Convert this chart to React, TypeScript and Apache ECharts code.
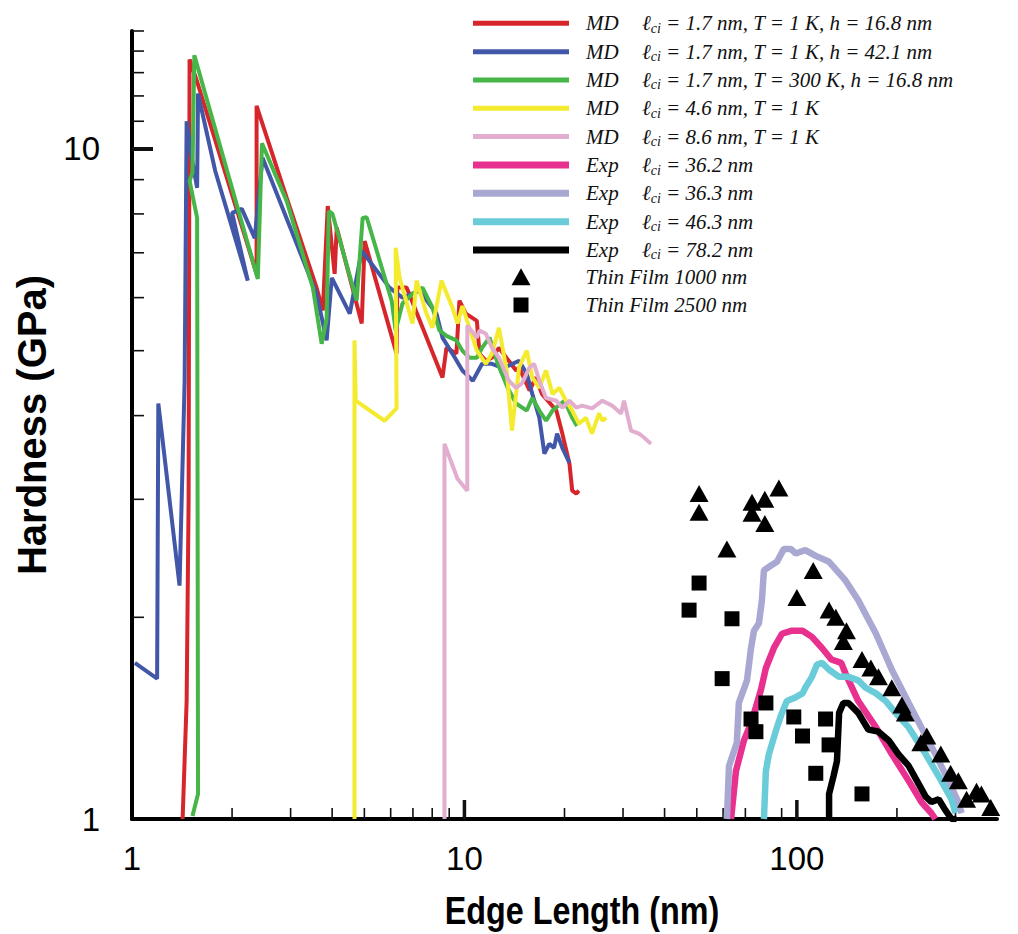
import React, { useEffect, useRef } from "react";
import * as echarts from "echarts";

// Axis tick positions (log axes)
const X_MAJOR_TICKS = [10, 100];
const X_MINOR_TICKS = [2, 3, 4, 5, 6, 7, 8, 9, 20, 30, 40, 50, 60, 70, 80, 90, 200, 300];
const Y_MAJOR_TICKS = [10];
const Y_MINOR_TICKS = [2, 3, 4, 5, 6, 7, 8, 9, 11, 12, 13, 14, 15];

const X_TITLE = "Edge Length (nm)";
const Y_TITLE = "Hardness (GPa)";

// Legend descriptions
const MD_LABELS = [
  "1.7 nm, T = 1 K, h = 16.8 nm",
  "1.7 nm, T = 1 K, h = 42.1 nm",
  "1.7 nm, T = 300 K, h = 16.8 nm",
  "4.6 nm, T = 1 K",
  "8.6 nm, T = 1 K",
];
const EXP_LABELS = ["36.2 nm", "36.3 nm", "46.3 nm", "78.2 nm"];
const FILM_LABELS = ["Thin Film 1000 nm", "Thin Film 2500 nm"];

const MD_COLORS = ["#d7262b", "#4257a8", "#46b648", "#f4eb2e", "#e2aed0"];
const EXP_COLORS = ["#e8318f", "#a9a8d2", "#6acbd9", "#000000"];

// [edge length (nm), hardness (GPa)]
const md17T1h168: [number, number][] = [
  [1.42, 1.0], [1.46, 1.5], [1.48, 2.99], [1.49, 13.6], [1.57, 12.6], [2.37, 6.51], [2.37, 11.6],
  [2.92, 8.45], [3.59, 6.21], [3.75, 5.74], [3.88, 8.22], [4.07, 6.51], [4.13, 7.63], [4.91, 5.49],
  [5.01, 7.29], [6.25, 4.95], [6.28, 6.21], [6.7, 6.21], [8.59, 4.56], [8.83, 5.05], [9.46, 4.95],
  [9.66, 5.94], [10.1, 5.68], [10.9, 5.54], [11.1, 4.95], [11.6, 4.83], [12.1, 4.88], [12.7, 5.05],
  [14.3, 4.67], [14.6, 4.72], [15.7, 4.36], [16.4, 4.56], [17.1, 4.31], [18.9, 4.07], [19.7, 3.76],
  [20.7, 3.39], [21.1, 3.09], [21.7, 3.06], [22.1, 3.09],
];
const md17T1h421: [number, number][] = [
  [1.02, 1.71], [1.19, 1.62], [1.2, 4.17], [1.39, 2.23], [1.44, 4.51], [1.46, 11.0], [1.5, 9.93],
  [1.57, 8.75], [1.58, 12.1], [1.78, 9.27], [2.23, 6.36], [2.0, 8.03], [2.14, 8.14], [2.34, 7.36],
  [2.47, 9.7], [3.59, 6.08], [3.85, 5.18], [3.99, 6.42], [4.52, 5.68], [4.91, 7.05], [5.95, 6.21],
  [6.51, 6.0], [7.32, 6.14], [8.24, 5.68], [8.59, 5.23], [9.2, 4.95], [9.86, 4.67], [10.6, 4.51],
  [11.3, 4.78], [12.1, 4.78], [12.9, 4.72], [13.6, 4.75], [14.6, 4.83], [15.4, 4.62], [16.0, 4.31],
  [16.8, 3.97], [17.4, 3.51], [18.0, 3.63], [18.6, 3.58], [19.0, 3.76], [19.7, 3.58], [20.7, 3.4],
];
const md17T300h168: [number, number][] = [
  [1.52, 1.01], [1.58, 1.09], [1.57, 7.89], [1.49, 8.96], [1.52, 9.21], [1.54, 13.8], [2.39, 6.4],
  [2.46, 10.2], [2.92, 8.36], [3.5, 6.21], [3.72, 5.12], [3.85, 5.58], [3.91, 8.08], [4.01, 8.0],
  [4.74, 5.94], [4.94, 7.89], [5.08, 7.91], [6.04, 5.94], [6.21, 5.36], [6.51, 5.88], [6.98, 6.08],
  [7.48, 6.21], [8.01, 5.8], [8.41, 5.36], [8.83, 5.26], [9.46, 5.18], [9.86, 5.0], [10.35, 4.88],
  [10.9, 4.88], [11.3, 5.05], [11.9, 5.23], [12.6, 4.78], [13.5, 4.4], [14.3, 4.17], [15.4, 4.07],
  [16.0, 4.25], [16.8, 4.07], [17.6, 3.93], [18.4, 4.07], [20.0, 4.21], [21.1, 3.97], [21.8, 3.86],
];
const md46T1: [number, number][] = [
  [4.67, 1.0], [4.67, 5.18], [4.71, 4.21], [5.75, 3.93], [6.25, 4.1], [6.21, 7.12], [6.38, 6.43],
  [6.98, 5.49], [7.18, 6.36], [7.69, 5.68], [8.01, 5.41], [8.53, 6.36], [9.2, 5.8], [9.53, 5.49],
  [9.86, 5.83], [10.35, 5.41], [10.9, 5.0], [11.6, 4.78], [12.1, 4.95], [12.7, 5.41], [13.4, 4.67],
  [13.9, 3.8], [14.6, 4.72], [15.4, 5.0], [16.0, 4.56], [16.8, 4.4], [17.6, 4.67], [18.4, 4.31],
  [19.3, 4.4], [20.2, 4.21], [21.1, 4.07], [22.1, 3.89], [23.2, 3.97], [24.2, 3.76], [25.4, 4.03],
  [26.0, 3.93], [26.7, 3.97],
];
const md86T1: [number, number][] = [
  [8.71, 1.0], [8.71, 3.63], [9.53, 3.22], [10.2, 3.09], [10.2, 5.45], [10.9, 5.23], [11.1, 5.36],
  [11.6, 5.3], [12.1, 5.05], [12.7, 4.88], [13.6, 4.51], [14.3, 4.4], [14.9, 4.47], [15.7, 4.72],
  [16.2, 4.78], [16.8, 4.51], [17.6, 4.25], [18.9, 4.21], [19.7, 4.11], [20.7, 4.21], [21.7, 4.11],
  [22.6, 4.14], [24.2, 4.1], [26.0, 4.21], [27.8, 4.14], [29.6, 4.03], [30.2, 4.21], [31.7, 3.8],
  [33.5, 3.76], [34.7, 3.71], [36.4, 3.63],
];
const exp362: [number, number][] = [
  [63.4, 1.0], [65.6, 1.18], [69.3, 1.31], [72.8, 1.39], [75.3, 1.47], [78.0, 1.56], [80.7, 1.68],
  [85.3, 1.8], [90.2, 1.89], [96.6, 1.91], [104, 1.91], [111, 1.87], [119, 1.8], [127, 1.73],
  [136, 1.71], [140, 1.65], [153, 1.5], [173, 1.37], [193, 1.25], [217, 1.14], [237, 1.06],
  [254, 1.02], [261, 1.0],
];
const exp363: [number, number][] = [
  [61.6, 1.0], [62.5, 1.2], [66.0, 1.3], [66.9, 1.49], [70.8, 1.61], [72.8, 1.8], [74.3, 1.91],
  [76.9, 1.96], [78.5, 2.12], [79.6, 2.35], [83.6, 2.39], [87.1, 2.42], [91.4, 2.53], [95.9, 2.53],
  [99.3, 2.49], [106, 2.52], [114, 2.47], [125, 2.42], [140, 2.27], [153, 2.12], [173, 1.89],
  [193, 1.67], [217, 1.49], [237, 1.37], [261, 1.25], [286, 1.14], [306, 1.06], [313, 1.02],
];
const exp463: [number, number][] = [
  [79.6, 1.0], [80.7, 1.18], [82.4, 1.25], [87.1, 1.37], [90.2, 1.44], [93.3, 1.5], [99.3, 1.52],
  [104, 1.54], [106, 1.57], [111, 1.63], [115, 1.7], [119, 1.71], [125, 1.67], [134, 1.63],
  [143, 1.63], [153, 1.61], [161, 1.57], [173, 1.54], [185, 1.5], [198, 1.44], [217, 1.37],
  [244, 1.25], [272, 1.14], [292, 1.07], [300, 1.02],
];
const exp782: [number, number][] = [
  [125, 1.0], [125, 1.09], [129, 1.16], [132, 1.22], [134, 1.44], [138, 1.49], [143, 1.49],
  [153, 1.44], [164, 1.36], [176, 1.35], [189, 1.31], [202, 1.25], [217, 1.2], [232, 1.13],
  [244, 1.08], [254, 1.06], [267, 1.07], [280, 1.03], [292, 1.0], [302, 1.0],
];
const film1000: [number, number][] = [
  [50.8, 3.06], [50.8, 2.87], [61.6, 2.53], [73.3, 2.97], [73.3, 2.86], [80.1, 3.0], [80.1, 2.76],
  [88.3, 3.12], [100, 2.14], [112, 2.35], [125, 2.05], [131, 2.0], [138, 1.84], [141, 1.91],
  [157, 1.73], [167, 1.68], [176, 1.63], [193, 1.57], [207, 1.48], [212, 1.44], [236, 1.3],
  [246, 1.33], [271, 1.25], [290, 1.17], [306, 1.14], [324, 1.07], [347, 1.1], [359, 1.09],
  [383, 1.04],
];
const film2500: [number, number][] = [
  [50.8, 2.25], [47.4, 2.05], [63.8, 1.99], [59.6, 1.62], [80.7, 1.49], [72.8, 1.41], [75.3, 1.35],
  [97.9, 1.42], [104, 1.33], [122, 1.41], [125, 1.29], [114, 1.17], [157, 1.09],
];

const MD_DATA = [md17T1h168, md17T1h421, md17T300h168, md46T1, md86T1];
const EXP_DATA = [exp362, exp363, exp463, exp782];

const mdName = (i: number) => `MD ℓci = ${MD_LABELS[i]}`;
const expName = (i: number) => `Exp ℓci = ${EXP_LABELS[i]}`;

const SERIF = "'Liberation Serif', 'Times New Roman', serif";
const SANS = "'Liberation Sans', Arial, sans-serif";

const legendText = {
  fontFamily: SERIF,
  fontStyle: "italic" as const,
  fontSize: 21,
  color: "#111",
  lineHeight: 24,
  rich: {
    a: { fontFamily: SERIF, fontStyle: "italic", fontSize: 21, color: "#111", lineHeight: 24, width: 56, padding: [0, 0, 0, 12] },
    l: { fontFamily: SERIF, fontStyle: "italic", fontSize: 21, color: "#111", lineHeight: 24 },
    s: { fontFamily: SERIF, fontStyle: "italic", fontSize: 14, color: "#111", lineHeight: 16, verticalAlign: "bottom" },
    b: { fontFamily: SERIF, fontStyle: "italic", fontSize: 21, color: "#111", lineHeight: 24 },
    t1: { fontFamily: SERIF, fontStyle: "italic", fontSize: 21, color: "#111", lineHeight: 24, padding: [0, 0, 0, 50] },
    t2: { fontFamily: SERIF, fontStyle: "italic", fontSize: 21, color: "#111", lineHeight: 24, padding: [0, 0, 0, 52] },
  },
};

const legendFormatter = (name: string) => {
  if (name === FILM_LABELS[0]) return `{t1|${name}}`;
  if (name === FILM_LABELS[1]) return `{t2|${name}}`;
  const kind = name.startsWith("MD") ? "MD" : "Exp";
  const rest = name.split(" = ").slice(1).join(" = ");
  return `{a|${kind}}{l|ℓ}{s|ci}{b| = ${rest}}`;
};

const ROW = 28.33;

function tickSeries(values: number[], axis: "x" | "y", len: number, width: number) {
  return {
    type: "custom",
    silent: true,
    clip: false,
    z: 1,
    data: values.map((v) => (axis === "x" ? [v, 1] : [1, v])),
    renderItem: (_params: any, api: any) => {
      const p = api.coord([api.value(0), api.value(1)]);
      const shape =
        axis === "x"
          ? { x1: p[0], y1: p[1], x2: p[0], y2: p[1] - len }
          : { x1: p[0], y1: p[1], x2: p[0] + len, y2: p[1] };
      return { type: "line", shape, style: { stroke: "#111", lineWidth: width } };
    },
  };
}

export default function App() {
  const ref = useRef<HTMLDivElement>(null);

  useEffect(() => {
    if (!ref.current) return;
    const chart = echarts.init(ref.current, null, { renderer: "svg" });

    const lineSeries: any[] = [];
    MD_DATA.forEach((d, i) =>
      lineSeries.push({
        type: "line",
        name: mdName(i),
        data: d,
        symbol: "none",
        showSymbol: false,
        lineStyle: { color: MD_COLORS[i], width: 4 },
        itemStyle: { color: MD_COLORS[i] },
        z: 2 + i,
      })
    );
    EXP_DATA.forEach((d, i) =>
      lineSeries.push({
        type: "line",
        name: expName(i),
        data: d,
        symbol: "none",
        showSymbol: false,
        lineStyle: { color: EXP_COLORS[i], width: 6.5 },
        itemStyle: { color: EXP_COLORS[i] },
        z: 8 + i,
      })
    );

    const option: any = {
      animation: false,
      backgroundColor: "#fff",
      grid: {
        left: 132,
        top: 31,
        width: 865,
        height: 788,
        containLabel: false,
        outerBoundsMode: "none",
      },
      graphic: [
        {
          type: "text",
          x: 582,
          y: 911,
          scaleX: 0.85,
          style: {
            text: X_TITLE,
            font: `bold 38px ${SANS}`,
            fill: "#000",
            textAlign: "center",
            textVerticalAlign: "middle",
          },
        },
      ],
      xAxis: {
        type: "log",
        logBase: 10,
        min: 1,
        max: 400,
        axisLine: { show: true, onZero: false, lineStyle: { color: "#000", width: 4 } },
        axisTick: { show: false },
        minorTick: { show: false },
        splitLine: { show: false },
        axisLabel: {
          margin: 23,
          showMaxLabel: false,
          fontFamily: SANS,
          fontSize: 33,
          color: "#000",
        },
      },
      yAxis: {
        type: "log",
        logBase: 10,
        min: 1,
        max: 15,
        name: Y_TITLE,
        nameLocation: "middle",
        nameGap: 66,
        nameTextStyle: {
          fontFamily: SANS,
          fontWeight: "bold",
          fontSize: 40,
          color: "#000",
          padding: [0, 0, 12, 0],
        },
        axisLine: { show: true, onZero: false, lineStyle: { color: "#000", width: 4 } },
        axisTick: { show: false },
        minorTick: { show: false },
        splitLine: { show: false },
        axisLabel: {
          margin: 32,
          showMaxLabel: false,
          fontFamily: SANS,
          fontSize: 33,
          color: "#000",
        },
      },
      legend: [
        {
          data: MD_LABELS.map((_, i) => mdName(i)),
          orient: "vertical",
          left: 473,
          top: 23.3 - 12,
          padding: 0,
          itemWidth: 96,
          itemHeight: 5,
          itemGap: ROW - 24,
          icon: "rect",
          selectedMode: false,
          textStyle: legendText,
          formatter: legendFormatter,
        },
        {
          data: EXP_LABELS.map((_, i) => expName(i)),
          orient: "vertical",
          left: 473,
          top: 165 - 12,
          padding: 0,
          itemWidth: 96,
          itemHeight: 7,
          itemGap: ROW - 24,
          icon: "rect",
          selectedMode: false,
          textStyle: legendText,
          formatter: legendFormatter,
        },
        {
          data: [FILM_LABELS[0]],
          orient: "vertical",
          left: 521 - 9.5,
          top: 276.7 - 12,
          padding: 0,
          itemWidth: 19,
          itemHeight: 17,
          icon: "triangle",
          selectedMode: false,
          itemStyle: { opacity: 1 },
          textStyle: legendText,
          formatter: legendFormatter,
        },
        {
          data: [FILM_LABELS[1]],
          orient: "vertical",
          left: 521 - 7.5,
          top: 305 - 12,
          padding: 0,
          itemWidth: 15,
          itemHeight: 15,
          icon: "rect",
          selectedMode: false,
          itemStyle: { opacity: 1 },
          textStyle: legendText,
          formatter: legendFormatter,
        },
      ],
      series: [
        tickSeries(X_MINOR_TICKS, "x", 11, 1.6),
        tickSeries(X_MAJOR_TICKS, "x", 19, 3.5),
        tickSeries(Y_MINOR_TICKS, "y", 12, 1.6),
        tickSeries(Y_MAJOR_TICKS, "y", 21, 4),
        ...lineSeries,
        {
          type: "scatter",
          name: FILM_LABELS[0],
          data: film1000,
          symbol: "triangle",
          symbolSize: [19, 17],
          itemStyle: { color: "#000", opacity: 1 },
          z: 20,
        },
        {
          type: "scatter",
          name: FILM_LABELS[1],
          data: film2500,
          symbol: "rect",
          symbolSize: 15,
          itemStyle: { color: "#000", opacity: 1 },
          z: 20,
        },
      ],
    };

    chart.setOption(option);
    return () => chart.dispose();
  }, []);

  return (
    <div
      ref={ref}
      style={{ position: "fixed", left: 0, top: 0, width: 1018, height: 934, background: "#fff" }}
    />
  );
}
